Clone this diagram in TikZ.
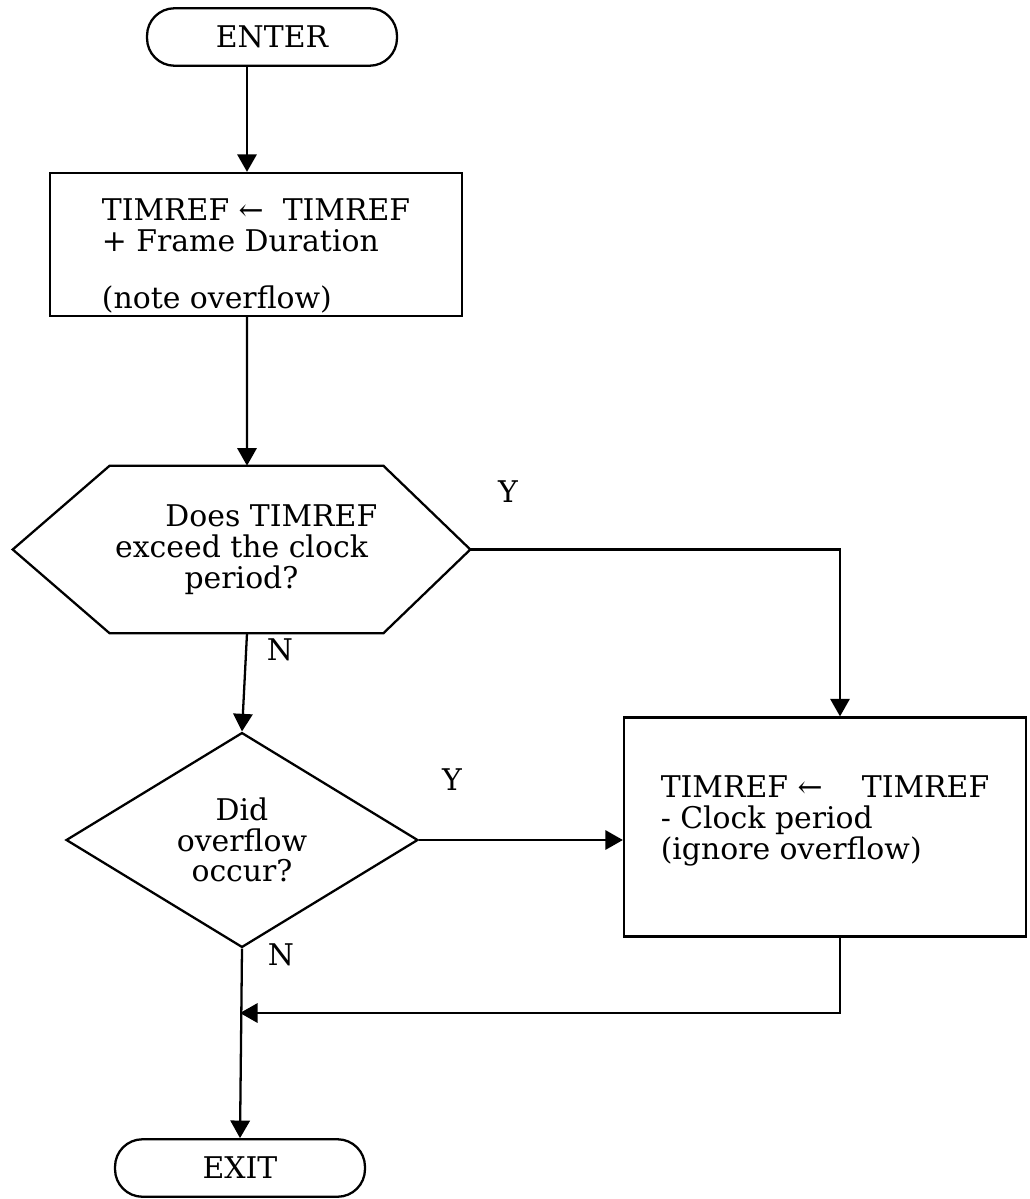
\documentclass[tikz,border=0pt]{standalone}
\usepackage{fontspec}
\setmainfont{DejaVu Serif}
\usetikzlibrary{shapes.geometric,arrows.meta,calc}

\tikzset{
    flowline/.style={black, line width=1.3pt},
    flowarrow/.style={flowline, -{Triangle[length=10pt,width=11pt]}},
    terminal/.style={draw, line width=1.3pt, rounded corners=0.55cm, minimum width=5cm, minimum height=1.15cm},
    stepbox/.style={draw, line width=1.3pt, align=left, inner sep=0pt},
    decision/.style={diamond, draw, line width=1.3pt, align=center, inner sep=0pt},
    answer/.style={inner sep=0pt}
}

\begin{document}
\begin{tikzpicture}[x=0.02cm, y=-0.02cm, font=\fontsize{17}{17.5}\selectfont]
            \useasboundingbox (0,0) rectangle (1030,1199);

            \node[terminal] (enter) at (272,37) {ENTER};
            \node[stepbox, minimum width=8.24cm, minimum height=2.86cm] (update) at (256,244.5)
                {\rule{0pt}{1.5em}TIMREF ← \ TIMREF\\+ Frame Duration\\[0.9em](note overflow)};
            \node[align=center, minimum width=9.14cm, minimum height=3.34cm, inner sep=0pt] (exceed) at (241.5,549.5)
                {\hspace*{2em}Does TIMREF\\exceed the clock\\period?};
            \draw[line width=1.3pt] (exceed.west) -- ($(exceed.north west)+(97,0)$) -- ($(exceed.north east)+(-87,0)$)
                -- (exceed.east) -- ($(exceed.south east)+(-87,0)$) -- ($(exceed.south west)+(97,0)$) -- cycle;
            \node[decision, minimum width=7.04cm, minimum height=4.16cm] (overflow) at (242,840)
                {Did\\overflow\\occur?};
            \node[stepbox, minimum width=8.04cm, minimum height=4.38cm] (fixup) at (825,827)
                {TIMREF ← \quad TIMREF\\- Clock period\\(ignore overflow)\\[-0.4em]};
            \node[terminal] (exit) at (240,1168) {EXIT};

            \coordinate (merge) at (240,1013);

            % connectors
            \draw[flowarrow] ($(enter.south)+(-25,0)$) -- ($(update.north)+(-9,0)$);
            \draw[flowarrow] ($(update.south)+(-9,0)$) -- ($(exceed.north)+(5.5,0)$);
            \draw[flowarrow] ($(exceed.south)+(5.5,0)$) -- (overflow.north);
            \draw[flowarrow] (exceed.east) -| ($(fixup.north)+(15,0)$);
            \draw[flowarrow] (overflow.east) -- (overflow.east -| fixup.west);
            \draw[flowarrow] (overflow.south) -- (exit.north);
            \draw[flowarrow] ($(fixup.south)+(15,0)$) |- (merge);

            % branch labels
            \node[answer] (exceedyes) at (508,492) {Y};
            \node[answer] (exceedno) at (280,650) {N};
            \node[answer] (overflowyes) at (452,780) {Y};
            \node[answer] (overflowno) at (281,955) {N};
        \end{tikzpicture}
\end{document}
